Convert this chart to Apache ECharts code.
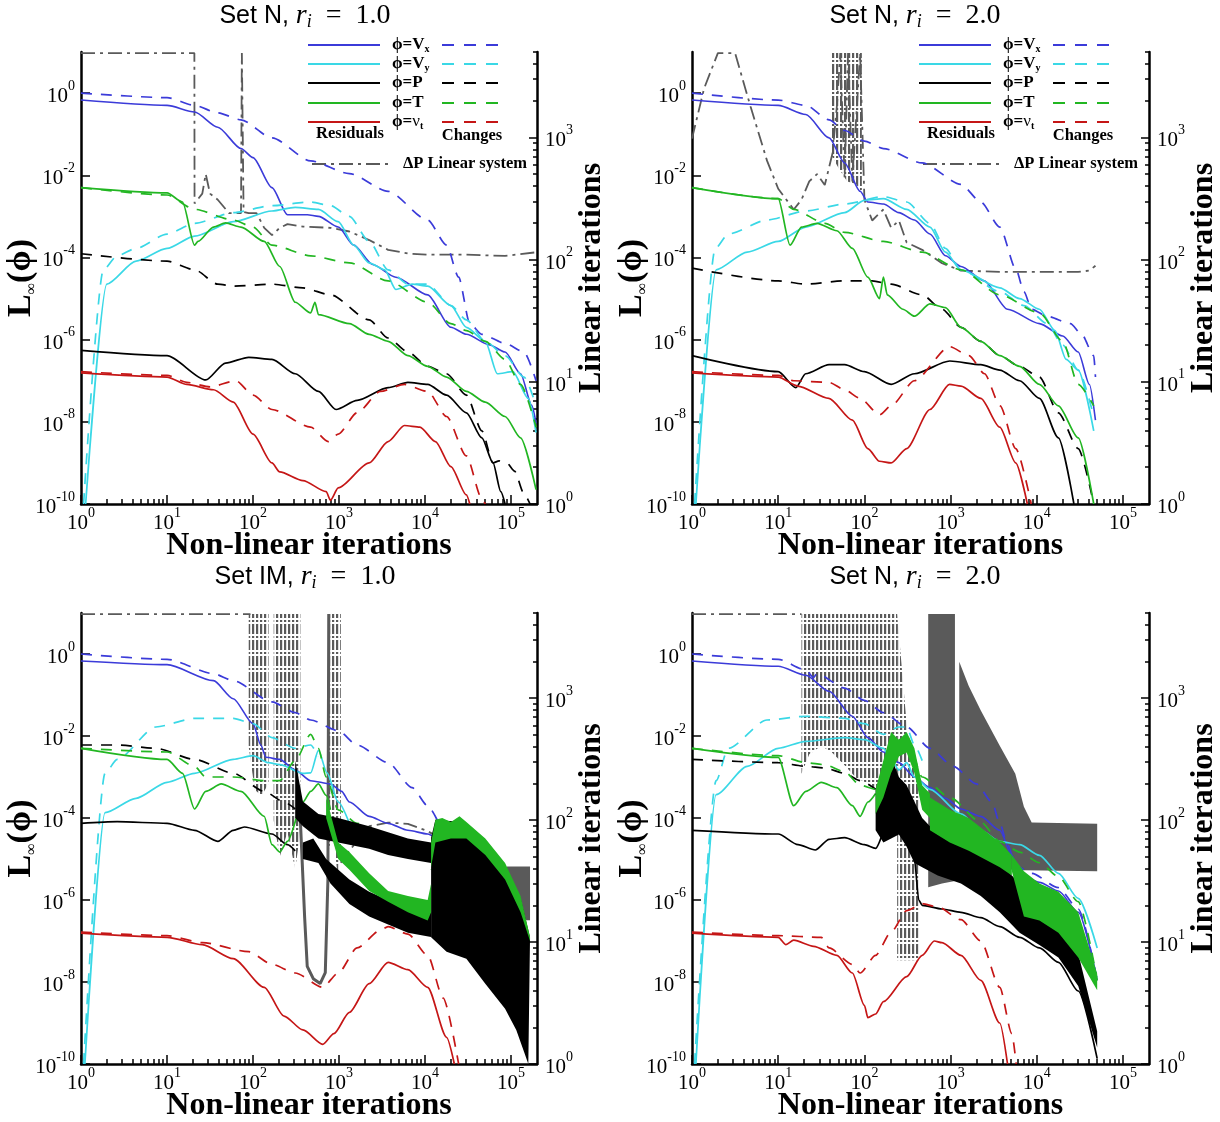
<!DOCTYPE html>
<html>
<head>
<meta charset="utf-8">
<script src="https://cdn.jsdelivr.net/npm/echarts@6/dist/echarts.min.js"></script>
<style>
  html, body { margin: 0; padding: 0; background: #fff; }
  #chart { width: 1220px; height: 1122px; }
</style>
</head>
<body>
<div id="chart"></div>
<script>
// Convergence histories. Every point is [log10(non-linear iteration), log10(value)].
// Left axis: L-infinity norms of residuals / changes. Right axis: linear iterations of the dP system.

const xTickExps = [0, 1, 2, 3, 4, 5];
const leftTickExps = [-10, -8, -6, -4, -2, 0];
const rightTickExps = [0, 1, 2, 3];
const X_MAX = Math.log10(2e5);
const R_MAX = Math.log10(5000);

const panelTitles = [
  ['Set N, ', '1.0'],
  ['Set N, ', '2.0'],
  ['Set IM, ', '1.0'],
  ['Set N, ', '2.0']
];

// ---------- Set N, r_i = 1.0 ----------
const p1VxRes = [[0,-0.17],[1,-0.30],[1.32,-0.46],[1.59,-0.83],[1.86,-1.35],[2.0,-1.57],[2.22,-2.30],[2.40,-2.96],[2.63,-2.96],[2.76,-3.00],[2.99,-3.26],[3.17,-3.70],[3.39,-4.17],[3.66,-4.48],[4.03,-4.91],[4.30,-5.70],[4.48,-5.87],[4.75,-6.13],[4.93,-6.30],[5.11,-6.83],[5.24,-7.60],[5.29,-8.04]];
const p1VxChg = [[0,0],[1,-0.11],[1.32,-0.30],[1.59,-0.48],[1.86,-0.65],[2.22,-1.09],[2.67,-1.65],[3.12,-1.96],[3.57,-2.39],[4.03,-3.09],[4.25,-3.70],[4.39,-4.48],[4.52,-5.61],[4.66,-5.87],[4.93,-6.09],[5.15,-6.30],[5.29,-7.00]];
const p1VyRes = [[0.054,-10],[0.30,-4.65],[0.64,-4.09],[1,-3.78],[1.32,-3.48],[1.77,-3.13],[2.22,-2.87],[2.49,-2.78],[2.76,-2.83],[2.99,-3.13],[3.17,-3.70],[3.35,-4.13],[3.53,-4.30],[3.66,-4.78],[3.85,-4.65],[4.03,-4.70],[4.30,-5.17],[4.48,-5.70],[4.70,-6.04],[4.84,-6.83],[5.02,-6.78],[5.20,-7.43],[5.29,-8.26]];
const p1VyChg = [[0.03,-10],[0.26,-4.30],[0.42,-3.96],[0.64,-3.78],[1,-3.43],[1.32,-3.17],[1.77,-2.91],[2.22,-2.74],[2.67,-2.65],[2.90,-2.74],[3.12,-3.00],[3.35,-3.61],[3.57,-4.30],[3.80,-4.65],[4.03,-4.65],[4.30,-5.17],[4.48,-5.52],[4.70,-6.04],[4.93,-6.39],[5.15,-6.91],[5.29,-7.61]];
const p1PRes = [[0,-6.26],[1,-6.39],[1.45,-6.98],[1.68,-6.57],[1.95,-6.43],[2.22,-6.48],[2.49,-6.83],[2.76,-7.26],[2.965,-7.70],[3.21,-7.48],[3.57,-7.17],[3.80,-7.04],[4.03,-7.09],[4.25,-7.35],[4.48,-7.78],[4.66,-8.39],[4.79,-9.00],[4.88,-9.70],[4.93,-10]];
const p1PChg = [[0,-3.91],[1,-4.09],[1.32,-4.30],[1.59,-4.65],[1.77,-4.70],[2.22,-4.65],[2.58,-4.74],[2.90,-4.91],[3.35,-5.52],[3.57,-5.96],[3.80,-6.30],[4.03,-6.65],[4.25,-6.83],[4.48,-7.35],[4.66,-8.22],[4.79,-9.00],[4.86,-8.95],[4.95,-9.00],[5.04,-9.20],[5.15,-9.75],[5.22,-10]];
const p1TRes = [[0,-2.30],[1,-2.43],[1.18,-2.65],[1.32,-3.70],[1.36,-3.61],[1.54,-3.26],[1.68,-3.16],[1.86,-3.26],[2.13,-3.61],[2.31,-4.22],[2.49,-5.09],[2.67,-5.35],[2.72,-5.09],[2.76,-5.39],[3.12,-5.61],[3.35,-5.87],[3.57,-6.04],[3.80,-6.39],[4.03,-6.65],[4.25,-6.91],[4.48,-7.26],[4.70,-7.52],[4.93,-7.87],[5.11,-8.39],[5.29,-9.65]];
const p1TChg = [[0,-2.30],[1,-2.48],[1.32,-2.83],[1.77,-3.09],[2.0,-3.26],[2.22,-3.70],[2.67,-3.96],[3.12,-4.13],[3.57,-4.57],[4.03,-5.09],[4.30,-5.61],[4.48,-5.78],[4.70,-6.04],[4.93,-6.48],[5.11,-7.09],[5.29,-8.13]];
const p1NtRes = [[0,-6.81],[1,-6.91],[1.23,-7.09],[1.54,-7.22],[1.77,-7.52],[2.0,-8.30],[2.22,-9.00],[2.31,-9.22],[2.58,-9.43],[2.85,-9.70],[2.90,-9.91],[2.99,-9.61],[3.35,-9.00],[3.57,-8.48],[3.76,-8.09],[3.94,-8.13],[4.12,-8.48],[4.30,-9.09],[4.48,-9.78],[4.52,-10]];
const p1NtChg = [[0,-6.78],[1,-6.87],[1.23,-7.04],[1.50,-7.15],[1.80,-7.00],[2.0,-7.35],[2.22,-7.70],[2.67,-8.13],[2.875,-8.48],[2.99,-8.30],[3.21,-7.78],[3.48,-7.26],[3.76,-7.09],[4.03,-7.26],[4.25,-7.87],[4.48,-8.83],[4.66,-9.87],[4.70,-10]];
const p1Lin = [[0,3.69],[1.318,3.69],[1.32,2.46],[1.41,2.54],[1.45,2.70],[1.50,2.54],[1.59,2.49],[1.72,2.38],[1.86,2.38],[1.87,3.69],[1.89,2.39],[1.95,2.38],[2.04,2.38],[2.13,2.26],[2.22,2.20],[2.31,2.26],[2.40,2.29],[2.58,2.27],[2.90,2.26],[3.12,2.23],[3.35,2.16],[3.57,2.08],[3.80,2.05],[4.03,2.04],[4.48,2.04],[4.93,2.03],[5.29,2.06]];

// ---------- Set N, r_i = 2.0 ----------
const p2VxRes = [[0,-0.17],[1,-0.30],[1.32,-0.52],[1.59,-1.09],[1.77,-1.70],[1.95,-2.39],[2.04,-2.65],[2.22,-2.70],[2.40,-2.91],[2.58,-3.09],[2.76,-3.43],[2.94,-3.96],[3.12,-4.22],[3.39,-4.57],[3.66,-5.26],[4.03,-5.61],[4.30,-5.91],[4.48,-6.30],[4.61,-7.09],[4.68,-7.96]];
const p2VxChg = [[0,0],[1,-0.17],[1.32,-0.30],[1.59,-0.65],[1.77,-0.91],[2.0,-1.17],[2.22,-1.35],[2.67,-1.70],[3.12,-2.22],[3.35,-2.65],[3.57,-3.26],[3.76,-4.30],[3.85,-4.83],[3.94,-5.26],[4.12,-5.43],[4.39,-5.61],[4.52,-5.87],[4.66,-6.39],[4.68,-6.91]];
const p2VyRes = [[0.045,-10],[0.28,-4.30],[0.64,-3.87],[1,-3.61],[1.32,-3.26],[1.77,-2.91],[2.0,-2.61],[2.22,-2.57],[2.49,-2.83],[2.76,-3.26],[2.94,-3.87],[3.12,-4.30],[3.57,-4.74],[3.80,-5.00],[4.03,-5.26],[4.21,-5.78],[4.34,-6.48],[4.48,-6.74],[4.66,-8.22]];
const p2VyChg = [[0.03,-10],[0.27,-3.78],[0.42,-3.43],[0.87,-3.09],[1.32,-2.87],[1.77,-2.70],[2.22,-2.52],[2.49,-2.65],[2.76,-3.17],[2.94,-3.78],[3.12,-4.30],[3.57,-4.83],[3.85,-5.17],[4.12,-5.61],[4.30,-6.13],[4.48,-6.74],[4.66,-7.87]];
const p2PRes = [[0,-6.39],[1,-6.78],[1.205,-7.17],[1.318,-6.83],[1.59,-6.61],[1.77,-6.61],[2.0,-6.78],[2.31,-7.09],[2.58,-6.83],[2.99,-6.52],[3.35,-6.61],[3.57,-6.74],[3.80,-7.00],[4.03,-7.43],[4.25,-8.39],[4.43,-10]];
const p2PChg = [[0,-4.26],[1,-4.57],[1.32,-4.65],[1.77,-4.57],[2.09,-4.57],[2.31,-4.65],[2.67,-4.91],[2.90,-5.26],[3.12,-5.70],[3.35,-6.04],[3.57,-6.39],[3.80,-6.65],[4.03,-6.91],[4.25,-7.78],[4.48,-8.65],[4.66,-10]];
const p2TRes = [[0,-2.30],[1,-2.57],[1.137,-3.70],[1.27,-3.26],[1.45,-3.17],[1.68,-3.35],[1.86,-3.78],[2.04,-4.48],[2.175,-5.00],[2.22,-4.48],[2.265,-4.91],[2.446,-5.26],[2.58,-5.43],[2.76,-5.13],[2.94,-5.22],[3.12,-5.70],[3.35,-6.04],[3.57,-6.39],[3.80,-6.65],[4.03,-7.09],[4.25,-7.61],[4.48,-8.39],[4.66,-10]];
const p2TChg = [[0,-2.30],[1,-2.57],[1.18,-2.83],[1.54,-3.17],[1.77,-3.39],[2.22,-3.61],[2.67,-3.87],[3.12,-4.30],[3.57,-4.91],[4.03,-5.35],[4.30,-6.04],[4.48,-7.09],[4.66,-7.61]];
const p2NtRes = [[0,-6.81],[1,-6.91],[1.227,-7.13],[1.588,-7.43],[1.86,-7.96],[2.04,-8.65],[2.175,-8.96],[2.31,-9.00],[2.49,-8.65],[2.76,-7.70],[2.987,-7.09],[3.12,-7.13],[3.35,-7.43],[3.57,-8.13],[3.755,-9.00],[3.89,-10]];
const p2NtChg = [[0,-6.78],[1,-6.87],[1.18,-7.00],[1.59,-7.04],[1.77,-7.22],[1.95,-7.43],[2.175,-7.83],[2.31,-7.61],[2.58,-7.00],[2.987,-6.17],[3.213,-6.39],[3.393,-6.83],[3.574,-7.61],[3.755,-8.65],[3.935,-10]];
const p2Lin = [[0,2.99],[0.14,3.40],[0.3,3.69],[0.5,3.69],[0.68,3.25],[0.87,2.81],[1,2.58],[1.18,2.41],[1.27,2.49],[1.36,2.64],[1.45,2.70],[1.54,2.61],[1.63,2.87],[1.68,3.25],[1.72,3.69],[1.77,2.67],[1.81,3.69],[1.86,2.64],[1.95,3.69],[2.0,2.49],[2.09,2.32],[2.22,2.41],[2.31,2.26],[2.40,2.32],[2.49,2.14],[2.67,2.08],[2.90,1.97],[3.12,1.91],[3.57,1.90],[4.03,1.90],[4.48,1.90],[4.61,1.91],[4.68,1.95]];
const p2LinBurstHi = [[1.62,3.69],[1.97,3.69]];
const p2LinBurstLo = [[1.62,2.85],[1.70,2.75],[1.80,2.64],[1.90,2.62],[1.97,2.55]];

// ---------- Set IM, r_i = 1.0 ----------
const p3VxRes = [[0,-0.17],[1,-0.26],[1.54,-0.65],[1.77,-1.09],[2.0,-1.70],[2.09,-2.22],[2.15,-2.52],[2.31,-2.57],[2.49,-2.83],[2.67,-3.09],[2.90,-3.17],[3.03,-3.35],[3.12,-3.61],[3.35,-3.96],[3.57,-4.13],[3.80,-4.30],[4.03,-4.39],[4.12,-4.48]];
const p3VxChg = [[0,0],[1,-0.13],[1.54,-0.48],[1.77,-0.65],[2.22,-1.17],[2.49,-1.43],[2.67,-1.61],[2.99,-1.87],[3.21,-2.22],[3.57,-2.65],[3.85,-3.26],[4.03,-3.70],[4.16,-4.13]];
const p3VyRes = [[0.045,-10],[0.28,-3.87],[0.64,-3.52],[1,-3.13],[1.32,-2.91],[1.77,-2.57],[2.0,-2.48],[2.18,-2.65],[2.31,-2.70],[2.58,-2.91],[2.67,-2.90],[2.76,-2.35],[2.86,-2.90],[2.99,-3.61],[3.12,-4.13]];
const p3VyChg = [[0.03,-10],[0.28,-2.91],[0.42,-2.57],[0.87,-1.78],[1.32,-1.57],[1.77,-1.57],[2.0,-1.70],[2.22,-2.04],[2.49,-2.30],[2.67,-2.22],[2.76,-2.50]];
const p3PRes = [[0,-4.13],[0.42,-4.09],[1,-4.13],[1.32,-4.30],[1.59,-4.57],[1.77,-4.30],[1.90,-4.22],[2.22,-4.39],[2.40,-4.65],[2.49,-4.80]];
const p3PChg = [[0,-2.22],[0.42,-2.22],[0.87,-2.30],[1.32,-2.57],[1.77,-2.91],[2.13,-3.35],[2.36,-3.61],[2.49,-3.78]];
const p3TRes = [[0,-2.30],[1,-2.57],[1.18,-2.91],[1.32,-3.78],[1.45,-3.35],[1.63,-3.17],[1.86,-3.35],[2.13,-3.96],[2.22,-4.65],[2.31,-4.83],[2.40,-4.57],[2.58,-3.61],[2.67,-3.35],[2.76,-3.17],[2.85,-3.45],[2.90,-3.80]];
const p3TChg = [[0,-2.30],[1,-2.39],[1.32,-2.74],[1.45,-3.00],[1.77,-3.00],[2.13,-3.09],[2.31,-3.09],[2.49,-2.60],[2.67,-1.96],[2.76,-2.30],[2.85,-3.00],[2.99,-3.80],[3.21,-4.13],[3.57,-4.43],[3.80,-4.65],[4.03,-5.00],[4.07,-5.26]];
const p3NtRes = [[0,-6.81],[1,-6.91],[1.41,-7.09],[1.77,-7.43],[2.13,-8.13],[2.36,-8.83],[2.58,-9.17],[2.81,-9.52],[2.94,-9.26],[3.12,-8.74],[3.35,-8.04],[3.57,-7.52],[3.80,-7.70],[4.03,-8.13],[4.25,-9.35],[4.34,-10]];
const p3NtChg = [[0,-6.78],[1,-6.87],[1.41,-7.04],[1.95,-7.26],[2.22,-7.57],[2.49,-7.78],[2.81,-8.13],[2.99,-7.78],[3.21,-7.17],[3.48,-6.74],[3.57,-6.65],[3.80,-6.83],[4.03,-7.35],[4.21,-8.39],[4.39,-10]];
// oscillating stretches, given as upper / lower envelopes
const p3PUpperHi = [[2.49,-2.6],[2.58,-3.6],[2.76,-3.9],[2.99,-4.0],[3.35,-4.2],[3.57,-4.35],[3.80,-4.5],[4.07,-4.6]];
const p3PUpperLo = [[2.49,-4.0],[2.58,-4.2],[2.76,-4.5],[2.99,-4.6],[3.35,-4.75],[3.57,-4.9],[3.80,-5.0],[4.07,-5.1]];
const p3PLowerHi = [[2.58,-4.6],[2.70,-4.5],[2.85,-5.0],[3.12,-5.5],[3.35,-5.8],[3.57,-6.0],[3.80,-6.2],[4.07,-6.3]];
const p3PLowerLo = [[2.58,-5.0],[2.76,-5.1],[2.90,-5.6],[3.12,-6.1],[3.35,-6.4],[3.57,-6.6],[3.80,-6.8],[4.07,-6.9]];
const p3PTailHi = [[4.07,-4.48],[4.12,-4.04],[4.39,-4.09],[4.48,-4.22],[4.70,-4.65],[4.93,-5.17],[5.11,-5.96],[5.22,-6.91]];
const p3PTailLo = [[4.07,-6.91],[4.25,-7.26],[4.48,-7.43],[4.70,-8.04],[4.93,-8.65],[5.06,-9.17],[5.15,-9.70],[5.20,-10]];
const p3TMidHi = [[2.85,-3.5],[2.99,-4.6],[3.12,-4.83],[3.35,-5.35],[3.57,-5.78],[3.80,-5.9],[4.03,-6.0],[4.07,-5.6]];
const p3TMidLo = [[2.85,-4.0],[2.99,-5.0],[3.12,-5.26],[3.35,-5.78],[3.57,-6.04],[3.80,-6.3],[4.03,-6.5],[4.07,-6.3]];
const p3TTailHi = [[4.07,-4.6],[4.12,-4.04],[4.20,-4.0],[4.30,-4.1],[4.40,-3.96],[4.48,-4.1],[4.70,-4.5],[4.93,-5.1],[5.11,-5.9],[5.22,-6.9]];
const p3TTailLo = [[4.07,-5.2],[4.12,-4.6],[4.30,-4.5],[4.48,-4.5],[4.70,-4.9],[4.93,-5.5],[5.11,-6.3],[5.22,-7.0]];
const p3LinTop = [[0,3.69],[1.97,3.69]];
const p3LinBurst1Hi = [[1.95,3.69],[2.18,3.69]];
const p3LinBurst1Lo = [[1.95,2.6],[2.02,2.25],[2.10,2.2],[2.18,2.3]];
const p3LinBurst2Hi = [[2.24,3.69],[2.55,3.69]];
const p3LinBurst2Lo = [[2.24,2.0],[2.31,1.7],[2.40,1.9],[2.49,1.6],[2.55,1.9]];
const p3LinValley = [[2.55,2.0],[2.60,1.2],[2.63,0.80],[2.70,0.70],[2.78,0.66],[2.84,0.75],[2.87,1.5],[2.88,3.69]];
const p3LinBurst3Hi = [[2.86,3.69],[3.02,3.69]];
const p3LinBurst3Lo = [[2.86,1.7],[2.93,1.9],[2.99,1.5],[3.02,1.7]];
const p3LinTail = [[3.02,1.65],[3.12,1.75],[3.35,1.95],[3.57,1.98],[3.80,1.97],[4.03,1.91],[4.30,1.80],[4.60,1.70],[4.93,1.62]];
const p3LinEndHi = [[4.95,1.62],[5.22,1.62]];
const p3LinEndLo = [[4.95,1.18],[5.22,1.18]];

// ---------- Set N, r_i = 2.0 (lower) ----------
const p4VxRes = [[0,-0.17],[1,-0.30],[1.32,-0.52],[1.59,-0.91],[1.86,-1.52],[2.04,-2.04],[2.22,-2.39],[2.40,-2.65],[2.58,-3.00],[2.76,-3.26],[2.94,-3.52],[3.12,-3.78],[3.35,-3.96],[3.57,-4.30],[3.71,-4.91],[3.80,-5.35],[4.03,-5.57],[4.25,-5.78],[4.48,-6.30],[4.70,-7.96]];
const p4VxChg = [[0,0],[1,-0.13],[1.32,-0.39],[1.41,-0.57],[1.45,-0.48],[1.77,-0.83],[2.0,-1.13],[2.22,-1.43],[2.49,-1.78],[2.76,-2.30],[3.03,-2.74],[3.30,-3.17],[3.48,-3.61],[3.57,-4.13],[3.66,-4.65],[3.76,-5.17],[3.94,-5.35],[4.25,-5.70],[4.48,-6.22],[4.70,-7.96]];
const p4VyRes = [[0.045,-10],[0.28,-3.43],[0.64,-2.74],[1,-2.30],[1.32,-2.13],[1.77,-2.04],[2.0,-2.09],[2.22,-2.30],[2.31,-2.57],[2.40,-2.83],[2.49,-2.65],[2.58,-3.00],[2.76,-3.30],[3.12,-3.90],[3.35,-4.30],[3.57,-4.57],[3.80,-4.65],[4.03,-4.91],[4.25,-5.35],[4.48,-5.96],[4.70,-7.17]];
const p4VyChg = [[0.03,-10],[0.28,-3.09],[0.42,-2.30],[0.87,-1.61],[1.32,-1.52],[1.77,-1.57],[2.0,-1.70],[2.22,-1.96],[2.40,-1.78],[2.49,-1.78],[2.58,-2.22],[2.67,-2.60]];
const p4PRes = [[0,-4.30],[1,-4.39],[1.23,-4.65],[1.43,-4.78],[1.59,-4.52],[1.77,-4.48],[2.0,-4.65],[2.13,-4.74],[2.31,-3.90],[2.40,-3.50],[2.49,-4.20],[2.58,-5.00],[2.63,-6.00],[2.67,-6.13],[2.90,-6.22],[3.12,-6.30],[3.35,-6.43],[3.57,-6.65],[3.80,-6.91],[4.03,-7.17],[4.25,-7.52],[4.48,-8.22],[4.70,-9.87]];
const p4PChg = [[0,-2.57],[1,-2.65],[1.32,-2.74],[1.54,-2.78],[1.77,-2.91],[1.95,-3.09],[2.13,-3.30]];
const p4TRes = [[0,-2.30],[1,-2.52],[1.18,-3.70],[1.32,-3.35],[1.50,-3.13],[1.68,-3.26],[1.86,-3.70],[1.95,-3.96],[2.04,-3.61],[2.13,-3.40]];
const p4TChg = [[0,-2.30],[1,-2.48],[1.32,-2.65],[1.54,-2.70],[1.77,-2.87],[1.95,-3.20],[2.13,-3.30],[2.31,-2.20],[2.49,-2.00],[2.67,-3.00],[2.99,-3.50],[3.35,-4.10],[3.57,-4.57],[3.80,-4.83],[4.03,-5.09],[4.25,-5.43],[4.48,-6.04],[4.70,-7.96]];
const p4NtRes = [[0,-6.81],[1,-6.91],[1.09,-7.09],[1.18,-6.98],[1.41,-7.13],[1.68,-7.35],[1.86,-7.78],[2.0,-8.57],[2.04,-8.87],[2.13,-8.78],[2.22,-8.48],[2.49,-7.87],[2.67,-7.35],[2.81,-7.00],[2.90,-7.04],[3.12,-7.35],[3.35,-7.96],[3.57,-9.00],[3.66,-10]];
const p4NtChg = [[0,-6.78],[1,-6.87],[1.50,-6.91],[1.59,-7.17],[1.86,-7.57],[1.95,-7.78],[2.13,-7.35],[2.31,-6.78],[2.49,-6.26],[2.67,-6.09],[2.85,-6.17],[3.12,-6.48],[3.35,-7.00],[3.57,-8.13],[3.71,-9.26],[3.76,-10]];
const p4PNoiseHi = [[2.13,-3.3],[2.22,-3.0],[2.31,-2.52],[2.40,-3.0],[2.49,-3.2],[2.58,-3.6],[2.67,-4.0],[2.85,-4.4],[3.12,-4.6],[3.35,-4.8],[3.57,-5.1],[3.80,-5.6],[4.03,-6.1],[4.25,-6.6],[4.48,-7.3],[4.70,-9.2]];
const p4PNoiseLo = [[2.13,-4.3],[2.22,-4.6],[2.31,-4.5],[2.40,-4.4],[2.49,-4.7],[2.58,-5.1],[2.67,-5.2],[2.85,-5.4],[3.12,-5.6],[3.35,-5.9],[3.57,-6.3],[3.80,-6.8],[4.03,-7.1],[4.25,-7.4],[4.48,-8.1],[4.70,-9.6]];
const p4THumpHi = [[2.13,-3.3],[2.22,-2.6],[2.31,-1.9],[2.40,-2.1],[2.49,-1.9],[2.58,-2.3],[2.67,-3.2],[2.76,-3.4]];
const p4THumpLo = [[2.13,-3.9],[2.22,-3.5],[2.31,-2.9],[2.40,-2.5],[2.49,-2.4],[2.58,-2.9],[2.67,-3.8],[2.76,-4.0]];
const p4TMidHi = [[2.76,-3.5],[2.99,-3.8],[3.21,-4.0],[3.39,-4.3],[3.57,-4.6],[3.71,-4.9]];
const p4TMidLo = [[2.76,-4.3],[2.99,-4.6],[3.21,-4.8],[3.39,-5.0],[3.57,-5.2],[3.71,-5.4]];
const p4TEndHi = [[3.71,-4.9],[3.85,-5.3],[4.03,-5.6],[4.25,-5.8],[4.48,-6.3],[4.70,-7.8]];
const p4TEndLo = [[3.71,-5.3],[3.85,-6.4],[4.03,-6.5],[4.25,-6.8],[4.48,-7.4],[4.70,-8.2]];
const p4LinTop = [[0,3.69],[1.27,3.69]];
const p4LinBurst1Hi = [[1.27,3.69],[2.38,3.69]];
const p4LinBurst1Lo = [[1.27,2.38],[1.36,2.54],[1.50,2.61],[1.63,2.55],[1.77,2.45],[1.90,2.35],[2.04,2.30],[2.18,2.20],[2.31,2.00],[2.38,1.90]];
const p4LinBurst2Hi = [[2.38,3.69],[2.50,2.70],[2.63,2.40]];
const p4LinBurst2Lo = [[2.38,0.85],[2.63,0.85]];
const p4LinBlockHi = [[2.74,3.69],[3.05,3.69]];
const p4LinBlockLo = [[2.74,1.45],[2.90,1.48],[3.05,1.50]];
const p4LinPlateauHi = [[3.10,3.30],[3.21,3.10],[3.35,2.90],[3.57,2.61],[3.75,2.38],[3.85,2.11],[3.94,1.98],[4.70,1.97]];
const p4LinPlateauLo = [[3.10,1.58],[3.35,1.60],[3.57,1.60],[3.85,1.59],[4.70,1.58]];

// ---------- styling ----------
const C = { vx: '#3b3bd9', vy: '#3ad8e6', p: '#000000', t: '#22b622', nt: '#c51616', lin: '#5a5a5a' };
const SERIF = "'Liberation Serif','DejaVu Serif','Times New Roman',serif";
const SANS = "'Liberation Sans',Arial,Helvetica,sans-serif";
const DASH = [11, 9];
const DASHDOT = [14, 5, 3, 5];

// vertical dash-dot strokes used to fill stretches where the linear-iteration count oscillates
const stripeCanvas = document.createElement('canvas');
stripeCanvas.width = 4; stripeCanvas.height = 16;
(function () {
  const c = stripeCanvas.getContext('2d');
  c.fillStyle = C.lin;
  c.fillRect(0, 0, 2.2, 10);
  c.fillRect(0, 12, 2.2, 2);
})();
const STRIPES = { image: stripeCanvas, repeat: 'repeat' };

const gridBoxes = [
  { left: 81, top: 52, width: 456, height: 452 },
  { left: 692, top: 52, width: 457, height: 452 },
  { left: 81, top: 613, width: 456, height: 451 },
  { left: 692, top: 613, width: 457, height: 451 }
];

// minor ticks at 2..9 of every decade
const xMinor = [];
for (let n = 0; n <= 5; n++) for (let k = 2; k <= 9; k++) { const v = n + Math.log10(k); if (v < X_MAX - 1e-6) xMinor.push(v); }
const rMinor = [];
for (let n = 0; n <= 3; n++) for (let k = 2; k <= 9; k++) { const v = n + Math.log10(k); if (v <= R_MAX + 1e-9) rMinor.push(v); }

const pow10 = v => '{b|10}{s|' + Math.round(v) + '}';
const tickRich = {
  b: { fontFamily: SERIF, fontSize: 21, color: '#000', lineHeight: 28, verticalAlign: 'bottom' },
  s: { fontFamily: SERIF, fontSize: 14, color: '#000', lineHeight: 14, verticalAlign: 'top' }
};
const axisLine = { show: true, onZero: false, lineStyle: { color: '#000', width: 2.5 } };
const tickLine = { color: '#000', width: 1.5 };
const nameFont = { fontFamily: SERIF, fontWeight: 'bold', fontSize: 32, color: '#000' };

const xAxes = [], yAxes = [], grids = [];
gridBoxes.forEach((b, g) => {
  grids.push(Object.assign({ containLabel: false, outerBoundsMode: 'none', show: false }, b));
  xAxes.push({
    gridIndex: g, type: 'value', min: 0, max: X_MAX, position: 'bottom',
    axisLine, splitLine: { show: false },
    axisTick: { show: true, inside: true, length: 9, lineStyle: tickLine, customValues: xTickExps },
    axisLabel: { show: true, margin: 2, customValues: xTickExps, formatter: pow10, rich: tickRich },
    name: 'Non-linear iterations', nameLocation: 'middle', nameGap: 26, nameMoveOverlap: false,
    nameTextStyle: nameFont
  });
  xAxes.push({
    gridIndex: g, type: 'value', min: 0, max: X_MAX, position: 'bottom',
    axisLine: { show: false, onZero: false }, splitLine: { show: false }, axisLabel: { show: false },
    axisTick: { show: true, inside: true, length: 5, lineStyle: tickLine, customValues: xMinor }
  });
  yAxes.push({
    gridIndex: g, type: 'value', min: -10, max: 1, position: 'left',
    axisLine, splitLine: { show: false },
    axisTick: { show: true, inside: true, length: 9, lineStyle: tickLine, customValues: leftTickExps },
    axisLabel: { show: true, margin: 6, customValues: leftTickExps, formatter: pow10, rich: tickRich },
    name: '{L|L}{i|∞}{p|(ϕ)}', nameLocation: 'middle', nameRotate: 90, nameGap: 41, nameMoveOverlap: false,
    nameTextStyle: {
      rich: {
        L: { fontFamily: SERIF, fontWeight: 'bold', fontSize: 34, color: '#000', lineHeight: 38, verticalAlign: 'middle' },
        i: { fontFamily: SERIF, fontSize: 16, color: '#000', lineHeight: 12, verticalAlign: 'bottom' },
        p: { fontFamily: SERIF, fontWeight: 'bold', fontSize: 34, color: '#000', lineHeight: 38, verticalAlign: 'middle' }
      }
    }
  });
  yAxes.push({
    gridIndex: g, type: 'value', min: 0, max: R_MAX, position: 'right',
    axisLine, splitLine: { show: false },
    axisTick: { show: true, inside: true, length: 8, lineStyle: tickLine, customValues: rightTickExps },
    axisLabel: { show: true, margin: 8, customValues: rightTickExps, formatter: pow10, rich: tickRich },
    name: 'Linear iterations', nameLocation: 'middle', nameRotate: 90, nameGap: 39, nameMoveOverlap: false,
    nameTextStyle: nameFont
  });
  yAxes.push({
    gridIndex: g, type: 'value', min: 0, max: R_MAX, position: 'right',
    axisLine: { show: false, onZero: false }, splitLine: { show: false }, axisLabel: { show: false },
    axisTick: { show: true, inside: true, length: 4, lineStyle: tickLine, customValues: rMinor }
  });
});

function line(g, data, color, kind, right, width, z, smooth) {
  return {
    type: 'line', xAxisIndex: 2 * g, yAxisIndex: right ? 3 * g + 1 : 3 * g,
    data, symbol: 'none', showSymbol: false, silent: true, clip: true, animation: false,
    smooth: smooth || false, smoothMonotone: 'x',
    z: z || (right ? 1 : 3),
    lineStyle: {
      color, width: width || 1.7,
      type: kind === 'solid' ? 'solid' : (kind === 'dashed' ? DASH : DASHDOT)
    }
  };
}

// filled region between an upper and a lower envelope
function band(g, hi, lo, fill, opacity, right, z) {
  return {
    type: 'custom', xAxisIndex: 2 * g, yAxisIndex: right ? 3 * g + 1 : 3 * g,
    data: hi, silent: true, clip: true, animation: false, z: z,
    renderItem(params, api) {
      if (params.dataIndex !== 0) return null;
      const pts = hi.map(p => api.coord(p)).concat(lo.slice().reverse().map(p => api.coord(p)));
      return { type: 'polygon', shape: { points: pts }, style: { fill: fill, opacity: opacity } };
    }
  };
}

function stdLines(g, d) {
  const s = 0.25;
  return [
    line(g, d.vxR, C.vx, 'solid', false, 1.6, 0, s), line(g, d.vxC, C.vx, 'dashed', false, 1.7, 0, s),
    line(g, d.vyR, C.vy, 'solid', false, 1.7, 0, s), line(g, d.vyC, C.vy, 'dashed', false, 1.7, 0, s),
    line(g, d.pR, C.p, 'solid', false, 1.7, 0, s), line(g, d.pC, C.p, 'dashed', false, 1.7, 0, s),
    line(g, d.tR, C.t, 'solid', false, 1.7, 0, s), line(g, d.tC, C.t, 'dashed', false, 1.7, 0, s),
    line(g, d.nR, C.nt, 'solid', false, 1.7, 0, s), line(g, d.nC, C.nt, 'dashed', false, 1.7, 0, s)
  ];
}

const series = [];
// panel 1
series.push(...stdLines(0, { vxR: p1VxRes, vxC: p1VxChg, vyR: p1VyRes, vyC: p1VyChg, pR: p1PRes, pC: p1PChg, tR: p1TRes, tC: p1TChg, nR: p1NtRes, nC: p1NtChg }));
series.push(line(0, p1Lin, C.lin, 'dashdot', true, 1.8));
// panel 2
series.push(...stdLines(1, { vxR: p2VxRes, vxC: p2VxChg, vyR: p2VyRes, vyC: p2VyChg, pR: p2PRes, pC: p2PChg, tR: p2TRes, tC: p2TChg, nR: p2NtRes, nC: p2NtChg }));
series.push(line(1, p2Lin, C.lin, 'dashdot', true, 1.8));
series.push(band(1, p2LinBurstHi, p2LinBurstLo, STRIPES, 1, true, 1));
// panel 3
series.push(band(2, p3LinBurst1Hi, p3LinBurst1Lo, STRIPES, 1, true, 1));
series.push(band(2, p3LinBurst2Hi, p3LinBurst2Lo, STRIPES, 1, true, 1));
series.push(band(2, p3LinBurst3Hi, p3LinBurst3Lo, STRIPES, 1, true, 1));
series.push(band(2, p3LinEndHi, p3LinEndLo, C.lin, 1, true, 1));
series.push(line(2, p3LinTop, C.lin, 'dashdot', true, 1.8));
series.push(line(2, p3LinValley, C.lin, 'solid', true, 3));
series.push(line(2, p3LinTail, C.lin, 'dashdot', true, 1.8));
series.push(...stdLines(2, { vxR: p3VxRes, vxC: p3VxChg, vyR: p3VyRes, vyC: p3VyChg, pR: p3PRes, pC: p3PChg, tR: p3TRes, tC: p3TChg, nR: p3NtRes, nC: p3NtChg }));
series.push(band(2, p3PUpperHi, p3PUpperLo, C.p, 1, false, 4));
series.push(band(2, p3PLowerHi, p3PLowerLo, C.p, 1, false, 4));
series.push(band(2, p3PTailHi, p3PTailLo, C.p, 1, false, 4));
series.push(band(2, p3TMidHi, p3TMidLo, C.t, 1, false, 5));
series.push(band(2, p3TTailHi, p3TTailLo, C.t, 1, false, 5));
// panel 4
series.push(band(3, p4LinBurst1Hi, p4LinBurst1Lo, STRIPES, 1, true, 1));
series.push(band(3, p4LinBurst2Hi, p4LinBurst2Lo, STRIPES, 1, true, 1));
series.push(band(3, p4LinBlockHi, p4LinBlockLo, C.lin, 1, true, 1));
series.push(band(3, p4LinPlateauHi, p4LinPlateauLo, C.lin, 1, true, 1));
series.push(line(3, p4LinTop, C.lin, 'dashdot', true, 1.8));
series.push(...stdLines(3, { vxR: p4VxRes, vxC: p4VxChg, vyR: p4VyRes, vyC: p4VyChg, pR: p4PRes, pC: p4PChg, tR: p4TRes, tC: p4TChg, nR: p4NtRes, nC: p4NtChg }));
series.push(band(3, p4PNoiseHi, p4PNoiseLo, C.p, 1, false, 4));
series.push(band(3, p4THumpHi, p4THumpLo, C.t, 1, false, 5));
series.push(band(3, p4TMidHi, p4TMidLo, C.t, 1, false, 5));
series.push(band(3, p4TEndHi, p4TEndLo, C.t, 1, false, 5));

// ---------- titles and legends ----------
const titleRich = {
  a: { fontFamily: SANS, fontSize: 25, color: '#000', lineHeight: 30, verticalAlign: 'middle' },
  r: { fontFamily: SERIF, fontStyle: 'italic', fontSize: 28, color: '#000', lineHeight: 30, verticalAlign: 'middle' },
  i: { fontFamily: SERIF, fontStyle: 'italic', fontSize: 18, color: '#000', lineHeight: 16, verticalAlign: 'bottom' },
  e: { fontFamily: SERIF, fontSize: 28, color: '#000', lineHeight: 30, verticalAlign: 'middle' }
};
const titlePos = [[305, 16], [915, 16], [305, 577], [915, 577]];
const graphics = [];
panelTitles.forEach((t, i) => {
  graphics.push({
    type: 'text', x: titlePos[i][0], y: titlePos[i][1], silent: true,
    style: { text: '{a|' + t[0] + '}{r|r}{i|i}{e|\u2002=\u2002' + t[1] + '}', rich: titleRich, align: 'center', verticalAlign: 'middle' }
  });
});

const legendRows = [
  { color: C.vx, text: '{t|ϕ=V}{s|x}' },
  { color: C.vy, text: '{t|ϕ=V}{s|y}' },
  { color: C.p, text: '{t|ϕ=P}' },
  { color: C.t, text: '{t|ϕ=T}' },
  { color: C.nt, text: '{t|ϕ=}{n|ν}{s|t}' }
];
const legendRowY = [45, 64, 83, 103, 122];
const legRich = {
  t: { fontFamily: SERIF, fontWeight: 'bold', fontSize: 17, color: '#000', lineHeight: 19, verticalAlign: 'middle' },
  n: { fontFamily: SERIF, fontSize: 17, color: '#000', lineHeight: 19, verticalAlign: 'middle' },
  s: { fontFamily: SERIF, fontWeight: 'bold', fontSize: 10, color: '#000', lineHeight: 10, verticalAlign: 'bottom' }
};
const capFont = { fontFamily: SERIF, fontWeight: 'bold', fontSize: 16.5, fill: '#000' };
[0, 611].forEach(ox => {
  legendRows.forEach((r, i) => {
    const y = legendRowY[i];
    graphics.push({ type: 'line', silent: true, shape: { x1: ox + 308, y1: y, x2: ox + 380, y2: y }, style: { stroke: r.color, lineWidth: 2 } });
    graphics.push({ type: 'line', silent: true, shape: { x1: ox + 442, y1: y, x2: ox + 502, y2: y }, style: { stroke: r.color, lineWidth: 2, lineDash: [12, 10] } });
    graphics.push({ type: 'text', silent: true, x: ox + 392, y: y, style: { text: r.text, rich: legRich, align: 'left', verticalAlign: 'middle' } });
  });
  graphics.push({ type: 'text', silent: true, x: ox + 350, y: 134, style: Object.assign({ text: 'Residuals', align: 'center', verticalAlign: 'middle' }, capFont) });
  graphics.push({ type: 'text', silent: true, x: ox + 472, y: 136, style: Object.assign({ text: 'Changes', align: 'center', verticalAlign: 'middle' }, capFont) });
  graphics.push({ type: 'line', silent: true, shape: { x1: ox + 312, y1: 164, x2: ox + 388, y2: 164 }, style: { stroke: C.lin, lineWidth: 2, lineDash: DASHDOT } });
  graphics.push({ type: 'text', silent: true, x: ox + 403, y: 164, style: Object.assign({ text: 'ΔP Linear system', align: 'left', verticalAlign: 'middle' }, capFont) });
});

const chart = echarts.init(document.getElementById('chart'), null, { renderer: 'canvas' });
chart.setOption({
  backgroundColor: '#ffffff',
  animation: false,
  grid: grids,
  xAxis: xAxes,
  yAxis: yAxes,
  series: series,
  graphic: { elements: graphics }
});
</script>
</body>
</html>
